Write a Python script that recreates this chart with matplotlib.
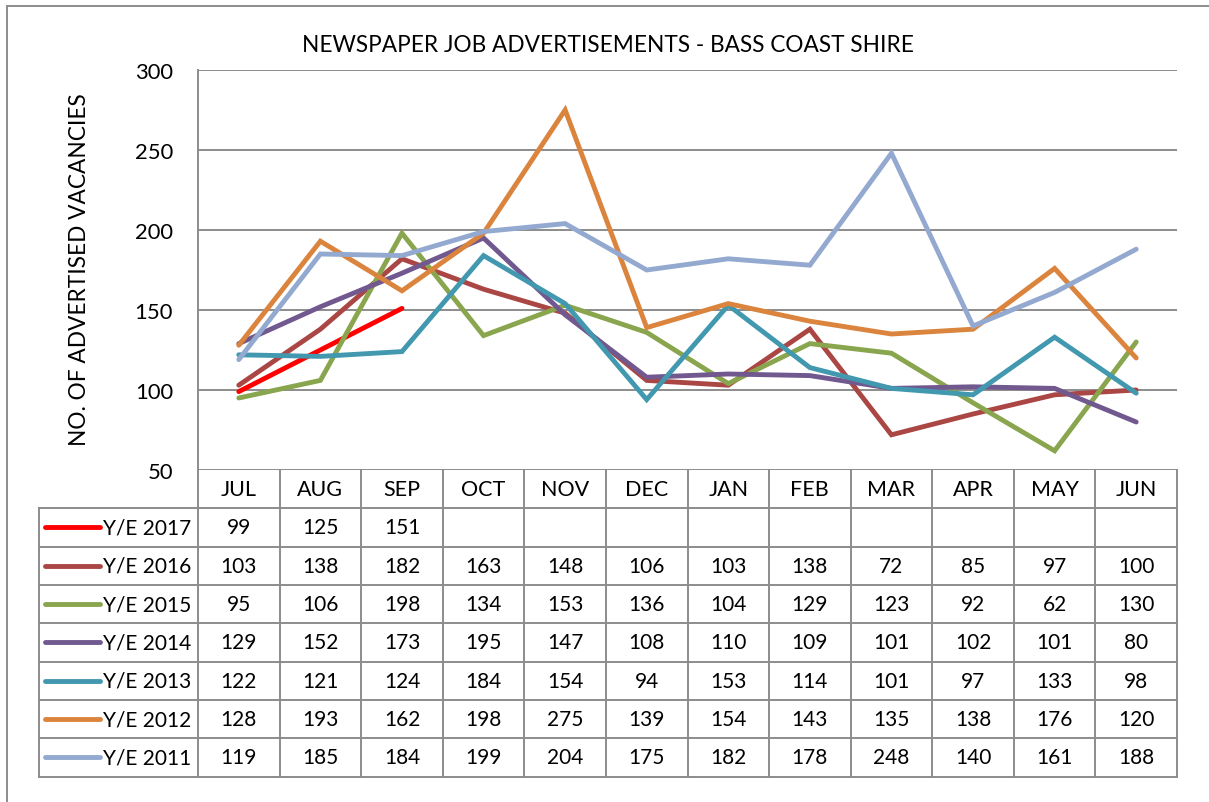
import matplotlib
matplotlib.use("Agg")
import matplotlib.pyplot as plt

plt.rcParams['font.family'] = ['Lato', 'DejaVu Sans']

months = ["JUL", "AUG", "SEP", "OCT", "NOV", "DEC", "JAN", "FEB", "MAR", "APR", "MAY", "JUN"]
series_names = ["Y/E 2017", "Y/E 2016", "Y/E 2015", "Y/E 2014", "Y/E 2013", "Y/E 2012", "Y/E 2011"]

ye2017 = [99, 125, 151]
ye2016 = [103, 138, 182, 163, 148, 106, 103, 138, 72, 85, 97, 100]
ye2015 = [95, 106, 198, 134, 153, 136, 104, 129, 123, 92, 62, 130]
ye2014 = [129, 152, 173, 195, 147, 108, 110, 109, 101, 102, 101, 80]
ye2013 = [122, 121, 124, 184, 154, 94, 153, 114, 101, 97, 133, 98]
ye2012 = [128, 193, 162, 198, 275, 139, 154, 143, 135, 138, 176, 120]
ye2011 = [119, 185, 184, 199, 204, 175, 182, 178, 248, 140, 161, 188]

series = [ye2017, ye2016, ye2015, ye2014, ye2013, ye2012, ye2011]
colors = ["#FF0000", "#AA4643", "#89A54E", "#71588F", "#4198AF", "#DB843D", "#93A9CF"]

W, H = 1209, 803
grid_col = "#8c8c8c"
fs = 15

fig = plt.figure(figsize=(W / 100, H / 100), dpi=100)

# plot area in pixel terms
px_left, px_right, px_top, px_bot = 198, 1177, 71, 471
ax = fig.add_axes([px_left / W, 1 - px_bot / H, (px_right - px_left) / W, (px_bot - px_top) / H])
ax.set_xlim(-0.5, len(months) - 0.5)
ax.set_ylim(50, 300)
ax.set_yticks(range(50, 301, 50))
ax.set_xticks([])
ax.yaxis.grid(True, color=grid_col, lw=1.4)
ax.set_axisbelow(True)
for s in ["top", "right", "bottom"]:
    ax.spines[s].set_visible(False)
ax.spines["left"].set_color(grid_col)
ax.spines["left"].set_linewidth(1.4)
ax.tick_params(axis="y", length=0, pad=18, labelsize=15.8)

for i, (vals, c) in enumerate(zip(series, colors)):
    ax.plot(range(len(vals)), vals, color=c, lw=3.5, solid_joinstyle="miter",
            solid_capstyle="round", zorder=3 + i)

fig.text(0.503, 1 - 45 / H, "NEWSPAPER JOB ADVERTISEMENTS - BASS COAST SHIRE",
         ha="center", va="center", fontsize=16.3)
fig.text(80 / W, 1 - 270 / H, "NO. OF ADVERTISED VACANCIES", rotation=90,
         ha="center", va="center", fontsize=16.3)

# data table drawn in pixel coordinates
tab = fig.add_axes([0, 0, 1, 1])
tab.set_xlim(0, W)
tab.set_ylim(H, 0)
tab.axis("off")

col_w = (px_right - px_left) / len(months)
row_h = 38.33
leg_left = 39
n_rows = len(series) + 1
tab_bot = px_bot + n_rows * row_h

# outer border (left and top only visible)
tab.plot([7, 7, W], [H, 7, 7], color=grid_col, lw=1.4, solid_joinstyle="miter")

for k in range(len(months) + 1):
    x = px_left + k * col_w
    tab.plot([x, x], [px_bot, tab_bot], color=grid_col, lw=1.4)
tab.plot([leg_left, leg_left], [px_bot + row_h, tab_bot], color=grid_col, lw=1.4)
for r in range(1, n_rows + 1):
    y = px_bot + r * row_h
    tab.plot([leg_left, px_right], [y, y], color=grid_col, lw=1.4)

for k, m in enumerate(months):
    tab.text(px_left + (k + 0.5) * col_w, px_bot + 0.5 * row_h, m,
             ha="center", va="center", fontsize=15.5)

for r, (name, vals, c) in enumerate(zip(series_names, series, colors)):
    yc = px_bot + (r + 1.5) * row_h
    tab.plot([45, 100], [yc, yc], color=c, lw=3.5, solid_capstyle="round")
    tab.text(103, yc, name, ha="left", va="center", fontsize=fs)
    for k, v in enumerate(vals):
        tab.text(px_left + (k + 0.5) * col_w, yc, str(v),
                 ha="center", va="center", fontsize=fs)

fig.savefig("out.png", dpi=100)
